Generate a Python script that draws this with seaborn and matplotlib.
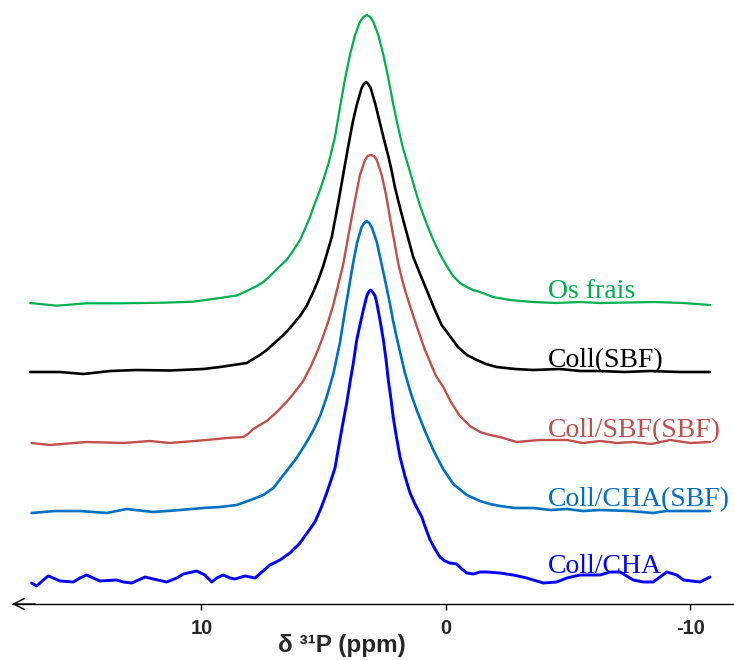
import matplotlib
matplotlib.use("Agg")
import matplotlib.pyplot as plt
import seaborn as sns
import pandas as pd

# 31P MAS NMR spectra: chemical shift (ppm) and intensity above each trace's own baseline
samples = ["Os frais", "Coll(SBF)", "Coll/SBF(SBF)", "Coll/CHA(SBF)", "Coll/CHA"]
colors = ["#00b050", "#000000", "#c0504d", "#0070c0", "#0000ff"]

ppm_os = [17.01, 15.92, 14.70, 13.33, 11.57, 10.35, 9.24, 8.56, 8.15, 7.74, 7.47, 7.20, 6.87,
          6.52, 6.26, 5.97, 5.77, 5.56, 5.36, 5.15, 4.81, 4.54, 4.34, 4.13, 3.93, 3.72, 3.52,
          3.38, 3.24, 3.10, 2.97, 2.77, 2.56, 2.36, 2.16, 1.96, 1.76, 1.47, 1.27, 1.06, 0.79,
          0.52, 0.25, -0.03, -0.29, -0.57, -0.85, -1.10, -1.39, -1.92, -2.62, -3.56, -4.50,
          -5.50, -6.30, -7.50, -8.55, -9.70, -10.80]
int_os = [0, -2.7, -0.3, -0.3, 0.3, 1.3, 5, 7.5, 12, 17, 21, 27, 35,
          43, 52, 63, 74, 86, 100, 113, 139, 166, 195, 224, 248, 268, 281,
          286, 288, 286, 281, 268, 248, 225, 199, 176, 155, 131, 114, 97, 79,
          63, 49, 37, 27, 20, 16, 13, 11, 6, 3, 1, 0,
          1, 0, 0.5, 1, 0, -2]

ppm_sbf = [17.01, 15.79, 14.83, 13.74, 12.65, 11.29, 9.93, 9.24, 8.15, 7.61, 7.33, 7.06, 6.65,
           6.38, 5.97, 5.70, 5.43, 5.24, 5.02, 4.67, 4.40, 4.20, 4.01, 3.82, 3.65, 3.45, 3.36,
           3.27, 3.18, 3.08, 2.88, 2.70, 2.54, 2.36, 2.22, 2.09, 1.92, 1.75, 1.55, 1.34, 1.06,
           0.79, 0.49, 0.18, -0.16, -0.49, -0.86, -1.26, -1.64, -2.07, -2.82, -3.56, -4.66,
           -5.50, -6.30, -7.30, -8.34, -9.57, -10.80]
int_sbf = [0, 0, -2, 1, 2, 1.5, 3, 5, 9, 17, 22, 28, 37,
           44, 56, 66, 80, 91, 106, 135, 170, 198, 224, 249, 267, 284, 288,
           290, 288, 284, 267, 249, 233, 216, 201, 185, 168, 152, 134, 115, 98,
           82, 64, 47, 36, 25, 17, 12, 8, 5, 3, 2, 3,
           1, 1, 0, 1, 0, 0]

ppm_csbf = [16.95, 16.20, 14.70, 13.20, 12.11, 11.29, 9.79, 8.97, 8.29, 8.10, 7.88, 7.61, 7.33,
            6.92, 6.52, 6.18, 5.84, 5.52, 5.22, 4.99, 4.81, 4.61, 4.47, 4.36, 4.20, 4.04, 3.86,
            3.68, 3.52, 3.31, 3.20, 3.08, 2.95, 2.83, 2.63, 2.45, 2.29, 2.11, 1.95, 1.77, 1.64,
            1.47, 1.27, 1.06, 0.86, 0.65, 0.41, 0.11, -0.20, -0.57, -0.98, -1.39, -1.80, -2.21,
            -2.89, -3.84, -4.94, -5.60, -6.30, -7.00, -7.66, -8.40, -9.16, -10.00, -10.80]
int_csbf = [-1, -3, 0, -1, 1, -1, 2, 4, 5, 8, 13, 17, 21,
            30, 40, 50, 61, 76, 93, 108, 121, 137, 151, 162, 178, 200, 224,
            247, 267, 282, 286, 287, 286, 282, 267, 247, 224, 200, 178, 160, 149,
            136, 121, 106, 92, 80, 66, 55, 40, 26, 16, 10, 7, 5,
            0, 2, 2, -1, 1, -1, 0, -2, 2, -1, 0]

ppm_ccha_sbf = [16.95, 15.99, 14.97, 13.88, 13.06, 11.97, 10.88, 9.93, 9.24, 8.56, 7.88, 7.47,
                7.06, 6.52, 6.11, 5.77, 5.44, 5.15, 4.88, 4.61, 4.34, 4.13, 4.04, 3.93, 3.79,
                3.63, 3.45, 3.34, 3.24, 3.14, 3.04, 2.83, 2.67, 2.52, 2.40, 2.29, 2.17, 2.02,
                1.85, 1.68, 1.44, 1.20, 0.86, 0.52, 0.12, -0.30, -0.85, -1.39, -1.80, -2.21,
                -2.82, -3.57, -4.30, -4.94, -5.60, -6.30, -7.53, -8.48, -9.00, -9.57, -10.80]
int_ccha_sbf = [-2, 0, 0, -2, 2, -1, 1, 3, 4, 6, 12, 16,
                23, 40, 53, 66, 80, 95, 114, 137, 168, 200, 213, 229, 249,
                269, 284, 288, 290, 288, 284, 269, 251, 234, 220, 207, 191, 174,
                156, 138, 118, 101, 80, 61, 42, 27, 16, 10, 7, 5,
                3, 3, 1, 2, 0, 1, 0, -2, 0, 0, 0]

ppm_ccha = [16.95, 16.74, 16.47, 16.27, 16.06, 15.79, 15.24, 14.97, 14.70, 14.43, 14.15, 13.47,
            13.20, 12.85, 12.58, 12.31, 11.97, 11.42, 11.01, 10.74, 10.20, 9.86, 9.58, 9.38,
            9.11, 8.83, 8.63, 8.22, 7.81, 7.53, 7.20, 6.79, 6.38, 5.97, 5.68, 5.36, 5.11, 4.88,
            4.70, 4.54, 4.34, 4.20, 4.06, 3.93, 3.79, 3.65, 3.52, 3.39, 3.31, 3.24, 3.16, 3.08,
            3.00, 2.90, 2.83, 2.70, 2.56, 2.45, 2.36, 2.25, 2.16, 2.02, 1.88, 1.68, 1.47, 1.27,
            0.99, 0.82, 0.65, 0.45, 0.25, 0.04, -0.16, -0.44, -0.65, -0.85, -1.12, -1.39, -1.66,
            -2.21, -2.75, -3.30, -3.98, -4.53, -4.94, -5.48, -6.30, -6.71, -7.12, -7.66, -8.07,
            -8.48, -9.03, -9.44, -9.71, -10.39, -10.80]
int_ccha = [-5, -8, -2, 2, 0, -3, -4, 0, 3, 0, -3, -2,
            -4, -5, -2, 1, -1, -4, 0, 4, 7, 3, -4, 0,
            3, 0, -1, 2, 0, 6, 13, 18, 25, 35, 45, 56, 70, 85,
            98, 110, 138, 157, 175, 195, 215, 238, 253, 267, 275, 282, 286, 288,
            286, 282, 275, 258, 238, 218, 198, 179, 161, 140, 121, 102, 85, 74,
            61, 49, 38, 29, 21, 17, 15, 14, 9, 5, 4, 6, 6,
            5, 3, 0, -5, -4, 0, 3, 3, 6, 6, -2, -4,
            -4, 6, 3, -2, -4, 1]

ppm_series = [ppm_os, ppm_sbf, ppm_csbf, ppm_ccha_sbf, ppm_ccha]
int_series = [int_os, int_sbf, int_csbf, int_ccha_sbf, int_ccha]

# vertical stacking of the traces
offsets = [301, 232, 162, 93, 26]
widths = [1.6, 1.9, 1.7, 1.9, 2.1]
tick_values = [10, 0, -10]
tick_labels = ["10", "0", "-10"]

frames = []
for name, p, i, off in zip(samples, ppm_series, int_series, offsets):
    frames.append(pd.DataFrame({"sample": name, "ppm": p,
                                "y": [off + v for v in i]}))
df = pd.concat(frames, ignore_index=True)

sns.set_theme(style="white")
plt.rcParams["font.family"] = ["Liberation Sans", "DejaVu Sans"]

fig = plt.figure(figsize=(7.34, 6.6), dpi=100)
ax = fig.add_axes([12 / 734, 56 / 660, 722 / 734, 604 / 660])

for name, col, lw in zip(samples, colors, widths):
    sns.lineplot(data=df[df["sample"] == name], x="ppm", y="y", color=col,
                 linewidth=lw, estimator=None, sort=True, ax=ax, legend=False)

ax.set_xlim(17.75, -11.78)
ax.set_ylim(0, 604)

# sample names beside each trace
for name, col, off in zip(samples, colors, offsets):
    ax.text(-4.17, off + 5, name, color=col, fontsize=20,
            family=["Liberation Serif", "DejaVu Serif"], va="baseline", ha="left")

for side in ["top", "right", "left"]:
    ax.spines[side].set_visible(False)
ax.spines["bottom"].set_color("black")
ax.spines["bottom"].set_linewidth(1.0)
ax.set_yticks([])
ax.set_xticks(tick_values)
ax.set_xticklabels(tick_labels, fontsize=14.5, fontweight="bold")
ax.tick_params(axis="x", direction="out", length=4, width=1, color="black", pad=7,
               bottom=True)

# open arrowhead at the low-field end of the axis
ax.annotate("", xy=(17.75, 0), xytext=(16.8, 0), xycoords="data",
            arrowprops=dict(arrowstyle="->", color="black", lw=1.0,
                            mutation_scale=20, shrinkA=0, shrinkB=0),
            annotation_clip=False)

ax.set_xlabel("δ ³¹P (ppm)", fontsize=17.5, fontweight="bold")
ax.xaxis.set_label_coords((342 - 12) / 722, (604 - 634) / 604)
ax.set_ylabel("")

fig.savefig("out.png", dpi=100)
